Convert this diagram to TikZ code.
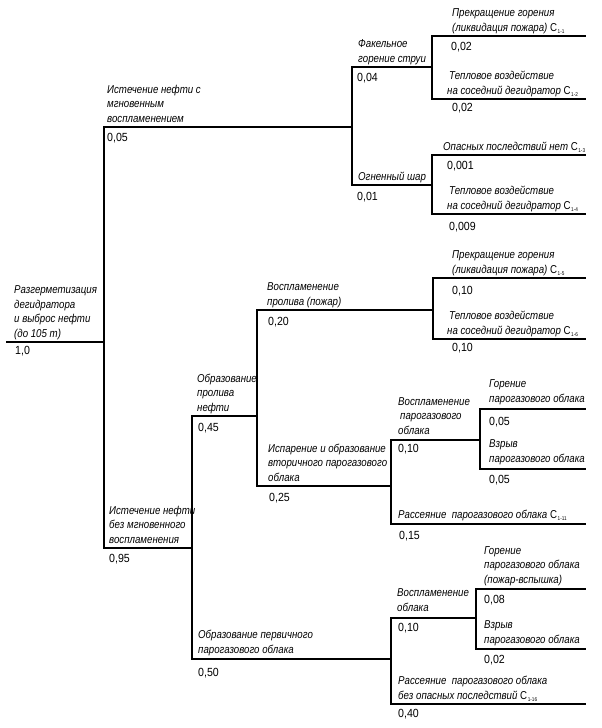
\documentclass[tikz,border=0pt]{standalone}
\usepackage{fontspec}
\setmainfont{Liberation Sans}[FakeStretch=0.85]
\newfontfamily\numfont{Liberation Sans}[FakeStretch=0.9]
\newcommand{\lbl}[1]{\begin{tabular}[b]{@{}l@{}}#1\end{tabular}}
\newcommand{\cc}[1]{{\upshape C}\kern0.6pt\raisebox{-2.4pt}{\upshape\fontsize{5.5}{5.5}\selectfont #1}}
\begin{document}
\begin{tikzpicture}[x=1pt,y=-1pt,
  edge/.style={line width=1.4pt, black},
  lab/.style={anchor=base west, inner sep=0pt, font=\fontsize{11.4}{14.5}\selectfont\itshape},
  num/.style={anchor=base west, inner sep=0pt, font=\numfont\fontsize{11.8}{13}\selectfont}]
\useasboundingbox (0,0) rectangle (602,728);
% tree points
\coordinate (R0) at (6,342);
\coordinate (F0) at (104,342);
\coordinate (FA) at (352,127);
\coordinate (FA1) at (432,67);
\coordinate (L11) at (586,36);
\coordinate (L12) at (586,99);
\coordinate (FA2) at (432,185);
\coordinate (L13) at (586,155);
\coordinate (L14) at (586,214);
\coordinate (FB) at (192,548);
\coordinate (FB1) at (257,416);
\coordinate (FB1a) at (433,310);
\coordinate (L15) at (586,278);
\coordinate (L16) at (586,339);
\coordinate (FB1b) at (391,486);
\coordinate (FB1b1) at (480,440);
\coordinate (Lg1) at (586,409);
\coordinate (Lv1) at (586,469);
\coordinate (L111) at (586,524);
\coordinate (FB2) at (391,659);
\coordinate (FB2a) at (476,618);
\coordinate (Lg2) at (586,589);
\coordinate (Lv2) at (586,649);
\coordinate (L116) at (586,704);
% connectors
\draw[edge] (R0) -- (F0);
\draw[edge] (F0) |- (FA);
\draw[edge] (F0) |- (FB);
\draw[edge] (FA) |- (FA1);
\draw[edge] (FA) |- (FA2);
\draw[edge] (FA1) |- (L11);
\draw[edge] (FA1) |- (L12);
\draw[edge] (FA2) |- (L13);
\draw[edge] (FA2) |- (L14);
\draw[edge] (FB) |- (FB1);
\draw[edge] (FB) |- (FB2);
\draw[edge] (FB1) |- (FB1a);
\draw[edge] (FB1) |- (FB1b);
\draw[edge] (FB1a) |- (L15);
\draw[edge] (FB1a) |- (L16);
\draw[edge] (FB1b) |- (FB1b1);
\draw[edge] (FB1b) |- (L111);
\draw[edge] (FB1b1) |- (Lg1);
\draw[edge] (FB1b1) |- (Lv1);
\draw[edge] (FB2) |- (FB2a);
\draw[edge] (FB2) |- (L116);
\draw[edge] (FB2a) |- (Lg2);
\draw[edge] (FB2a) |- (Lv2);
% labels
\node[lab] (tR) at (14,337) {\lbl{Разгерметизация\\дегидратора\\и выброс нефти\\(до 105 т)}};
\node[num] (nR) at (15,354) {1,0};
\node[lab] (tA) at (107,122) {\lbl{Истечение нефти с\\мгновенным\\воспламенением}};
\node[num] (nA) at (107,141.5) {0,05};
\node[lab] (tA1) at (358,62) {\lbl{Факельное\\горение струи}};
\node[num] (nA1) at (357,81) {0,04};
\node[lab] (t11) at (452,31) {\lbl{Прекращение горения\\(ликвидация пожара) \cc{1-1}}};
\node[num] (n11) at (451,50) {0,02};
\node[lab] (t12) at (447,94) {\lbl{\hspace{2pt}Тепловое воздействие\\на соседний дегидратор \cc{1-2}}};
\node[num] (n12) at (452,111) {0,02};
\node[lab] (tA2) at (358,180) {\lbl{Огненный шар}};
\node[num] (nA2) at (357,200) {0,01};
\node[lab] (t13) at (443,150) {\lbl{Опасных последствий нет \cc{1-3}}};
\node[num] (n13) at (447,169) {0,001};
\node[lab] (t14) at (447,209) {\lbl{\hspace{2pt}Тепловое воздействие\\на соседний дегидратор \cc{1-4}}};
\node[num] (n14) at (449,230) {0,009};
\node[lab] (tB) at (109,543) {\lbl{Истечение нефти\\без мгновенного\\воспламенения}};
\node[num] (nB) at (109,562) {0,95};
\node[lab] (tB1) at (197,411) {\lbl{Образование\\пролива\\нефти}};
\node[num] (nB1) at (198,431) {0,45};
\node[lab] (tB1a) at (267,305) {\lbl{Воспламенение\\пролива (пожар)}};
\node[num] (nB1a) at (268,325) {0,20};
\node[lab] (t15) at (452,273) {\lbl{Прекращение горения\\(ликвидация пожара) \cc{1-5}}};
\node[num] (n15) at (452,294) {0,10};
\node[lab] (t16) at (447,334) {\lbl{\hspace{2pt}Тепловое воздействие\\на соседний дегидратор \cc{1-6}}};
\node[num] (n16) at (452,351) {0,10};
\node[lab] (tB1b) at (268,481) {\lbl{Испарение и образование\\вторичного парогазового\\облака}};
\node[num] (nB1b) at (269,501) {0,25};
\node[lab] (tB1b1) at (398,434) {\lbl{Воспламенение\\\hspace{2pt}парогазового\\облака}};
\node[num] (nB1b1) at (398,452.5) {0,10};
\node[lab] (tg1) at (489,402) {\lbl{Горение\\парогазового облака}};
\node[num] (ng1) at (489,425) {0,05};
\node[lab] (tv1) at (489,462) {\lbl{Взрыв\\парогазового облака}};
\node[num] (nv1) at (489,483) {0,05};
\node[lab] (t111) at (398,518) {\lbl{Рассеяние\ \ парогазового облака \cc{1-11}}};
\node[num] (n111) at (399,539) {0,15};
\node[lab] (tB2) at (198,653) {\lbl{Образование первичного\\парогазового облака}};
\node[num] (nB2) at (198,676) {0,50};
\node[lab] (tB2a) at (397,611) {\lbl{Воспламенение\\облака}};
\node[num] (nB2a) at (398,631) {0,10};
\node[lab] (tg2) at (484,583) {\lbl{Горение\\парогазового облака\\(пожар-вспышка)}};
\node[num] (ng2) at (484,603) {0,08};
\node[lab] (tv2) at (484,643) {\lbl{Взрыв\\парогазового облака}};
\node[num] (nv2) at (484,663) {0,02};
\node[lab] (t116) at (398,699) {\lbl{Рассеяние\ \ парогазового облака\\без опасных последствий \cc{1-16}}};
\node[num] (n116) at (398,717) {0,40};
\end{tikzpicture}
\end{document}
